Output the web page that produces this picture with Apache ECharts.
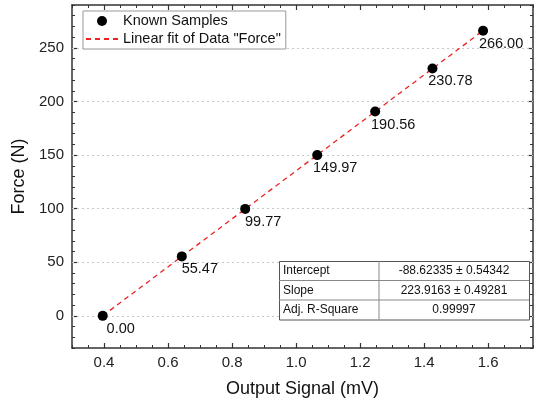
<!DOCTYPE html>
<html><head><meta charset="utf-8">
<script src="https://cdn.jsdelivr.net/npm/echarts@6/dist/echarts.min.js"></script>
<style>html,body{margin:0;padding:0;background:#fff}#c{width:536px;height:401px}</style>
</head><body><div id="c"></div>
<script>
// ---- data ----
const sampleX = [0.396, 0.643, 0.841, 1.066, 1.247, 1.426, 1.584];
const sampleForce = [0.00, 55.47, 99.77, 149.97, 190.56, 230.78, 266.00];
const fitX = [0.396, 1.584];
const fitForce = [0.05, 266.05];
const xTicks = [0.4, 0.6, 0.8, 1.0, 1.2, 1.4, 1.6];
const yTicks = [0, 50, 100, 150, 200, 250];
const tableNames = ['Intercept', 'Slope', 'Adj. R-Square'];
const tableValues = ['-88.62335 ± 0.54342', '223.9163 ± 0.49281', '0.99997'];

const FONT = '"Liberation Sans", Arial, sans-serif';
const AX = '#333';
const chart = echarts.init(document.getElementById('c'));

const X_MIN = 0.3, X_MAX = 1.74, Y_MIN = -30, Y_MAX = 290;

function majorX(pos, labels) {
  return {
    type: 'value', position: pos, min: X_MIN, max: X_MAX,
    name: labels ? 'Output Signal (mV)' : '', nameLocation: 'middle', nameGap: 32,
    nameTextStyle: { fontFamily: FONT, fontSize: 18, color: '#111' },
    axisLine: { show: true, onZero: false, lineStyle: { color: AX, width: 1.5 } },
    axisTick: { show: true, inside: true, length: 5, customValues: xTicks, lineStyle: { color: AX, width: 1.2 } },
    axisLabel: { show: labels, customValues: xTicks, margin: 7, fontFamily: FONT, fontSize: 15, color: '#222',
                 formatter: v => v.toFixed(1) },
    splitLine: { show: false }, minorTick: { show: false }
  };
}
function minorX(pos) {
  return {
    type: 'value', position: pos, min: X_MIN, max: X_MAX, interval: 0.05,
    axisLine: { show: false, onZero: false },
    axisTick: { show: true, inside: true, length: 3, lineStyle: { color: AX, width: 1 } },
    axisLabel: { show: false }, splitLine: { show: false }
  };
}
function majorY(pos, labels) {
  return {
    type: 'value', position: pos, min: Y_MIN, max: Y_MAX,
    name: labels ? 'Force (N)' : '', nameLocation: 'middle', nameGap: 42,
    nameTextStyle: { fontFamily: FONT, fontSize: 18, color: '#111' },
    axisLine: { show: true, onZero: false, lineStyle: { color: AX, width: 1.5 } },
    axisTick: { show: true, inside: true, length: 5, customValues: yTicks, lineStyle: { color: AX, width: 1.2 } },
    axisLabel: { show: labels, customValues: yTicks, margin: 8, fontFamily: FONT, fontSize: 15, color: '#222' },
    splitLine: { show: false }, minorTick: { show: false }
  };
}
function minorY(pos) {
  return {
    type: 'value', position: pos, min: Y_MIN, max: Y_MAX, interval: 10,
    axisLine: { show: false, onZero: false },
    axisTick: { show: true, inside: true, length: 3, lineStyle: { color: AX, width: 1 } },
    axisLabel: { show: false }, splitLine: { show: false }
  };
}

const tableLeft = 279, tableTop = 261, rowH = 19.5, col1W = 100, col2W = 150;
const graphics = [];
graphics.push({ type: 'rect', left: tableLeft, top: tableTop, z: 100,
  shape: { width: col1W + col2W, height: rowH * tableNames.length },
  style: { fill: '#fff', stroke: '#555', lineWidth: 1 } });
tableNames.forEach((n, i) => {
  const y = tableTop + i * rowH;
  if (i > 0) graphics.push({ type: 'line', z: 101, shape: { x1: tableLeft, y1: y, x2: tableLeft + col1W + col2W, y2: y },
    style: { stroke: '#888', lineWidth: 1 } });
  graphics.push({ type: 'text', z: 102, x: tableLeft + 4, y: y + rowH / 2,
    style: { text: n, font: '12px ' + FONT, fill: '#111', textVerticalAlign: 'middle', verticalAlign: 'middle' } });
  graphics.push({ type: 'text', z: 102, x: tableLeft + col1W + col2W / 2, y: y + rowH / 2,
    style: { text: tableValues[i], font: '12px ' + FONT, fill: '#111', align: 'center', textAlign: 'center', textVerticalAlign: 'middle', verticalAlign: 'middle' } });
});
graphics.push({ type: 'line', z: 101, shape: { x1: tableLeft + col1W, y1: tableTop, x2: tableLeft + col1W, y2: tableTop + rowH * tableNames.length },
  style: { stroke: '#888', lineWidth: 1 } });

chart.setOption({
  animation: false,
  backgroundColor: '#fff',
  grid: { left: 72, right: 3, top: 5, bottom: 53, containLabel: false, outerBoundsMode: 'none' },
  xAxis: [majorX('bottom', true), minorX('bottom'), majorX('top', false), minorX('top')],
  yAxis: [majorY('left', true), minorY('left'), majorY('right', false), minorY('right')],
  legend: {
    orient: 'vertical', left: 83, top: 11, padding: [2, 5, 2, 2], itemGap: 2,
    itemWidth: 32, itemHeight: 10, backgroundColor: '#fff', borderColor: '#999', borderWidth: 1,
    textStyle: { fontFamily: FONT, fontSize: 14.5, color: '#111', lineHeight: 16 },
    data: [
      { name: 'Known Samples', itemStyle: { color: '#000', opacity: 1 } },
      { name: 'Linear fit of Data "Force"', itemStyle: { opacity: 0 } }
    ]
  },
  series: [
    {
      name: 'Linear fit of Data "Force"', type: 'line', xAxisIndex: 0, yAxisIndex: 0,
      data: fitX.map((x, i) => [x, fitForce[i]]), symbol: 'none', z: 3,
      lineStyle: { color: '#ee2222', width: 1.3, type: [5, 4] }, itemStyle: { color: '#ee2222', opacity: 0 }
    },
    {
      name: 'Known Samples', type: 'scatter', xAxisIndex: 0, yAxisIndex: 0, z: 4,
      data: sampleX.map((x, i) => [x, sampleForce[i]]), symbolSize: 10,
      itemStyle: { color: '#000', opacity: 1 },
      label: { show: true, position: 'inside', offset: [18, 13], fontFamily: FONT, fontSize: 14.5, color: '#111',
               formatter: p => sampleForce[p.dataIndex].toFixed(2) },
      markLine: {
        silent: true, symbol: ['none', 'none'], label: { show: false }, z: 1,
        lineStyle: { color: '#c8c8c8', type: [2, 3], width: 1 },
        data: yTicks.map(v => ({ yAxis: v }))
      }
    }
  ],
  graphic: graphics
});
</script></body></html>
